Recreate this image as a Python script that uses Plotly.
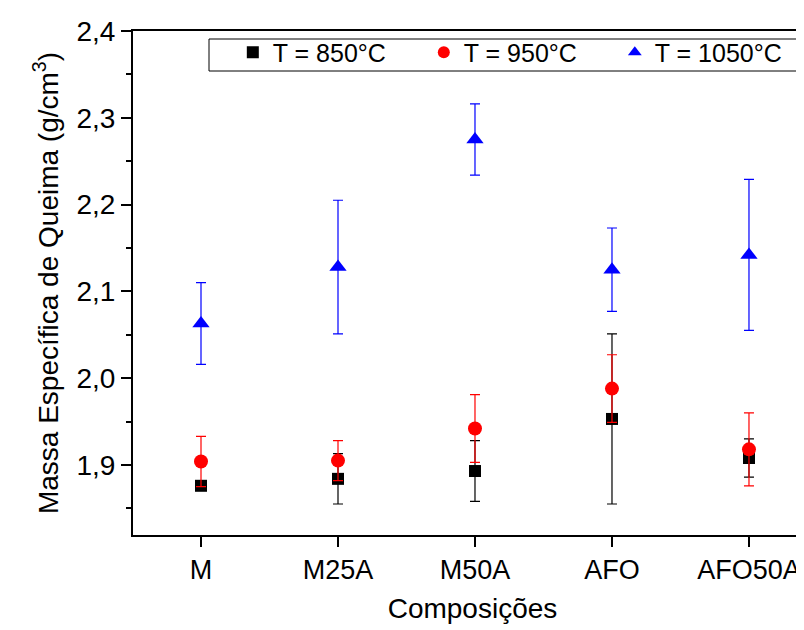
import plotly.graph_objects as go

categorias = ["M", "M25A", "M50A", "AFO", "AFO50A"]
massa_850 = [1.876, 1.884, 1.893, 1.953, 1.908]
erro_850 = [0.005, 0.029, 0.035, 0.098, 0.022]
massa_950 = [1.904, 1.905, 1.942, 1.988, 1.918]
erro_950 = [0.029, 0.023, 0.039, 0.039, 0.042]
massa_1050 = [2.063, 2.128, 2.275, 2.125, 2.142]
erro_1050 = [0.047, 0.077, 0.041, 0.048, 0.087]
y_ticks = [1.9, 2.0, 2.1, 2.2, 2.3, 2.4]
y_tick_labels = ["1,9", "2,0", "2,1", "2,2", "2,3", "2,4"]
y_minor = [1.85, 1.95, 2.05, 2.15, 2.25, 2.35]

FONT = "Liberation Sans, Arial, sans-serif"

fig = go.Figure()
series = [
    ("T = 850°C", massa_850, erro_850, "#000000", "square", 12),
    ("T = 950°C", massa_950, erro_950, "#FF0000", "circle", 14),
    ("T = 1050°C", massa_1050, erro_1050, "#0000FF", "triangle-up", 15),
]
for nome, vals, errs, cor, simb, tam in series:
    fig.add_trace(go.Scatter(
        x=categorias, y=vals, mode="markers", name=nome,
        marker=dict(symbol=simb, size=tam, color=cor),
        error_y=dict(type="data", array=errs, color=cor, thickness=1.2, width=5),
    ))

W, H = 804, 630
L, R, T, B = 125, 0, 23, 103

fig.update_layout(
    width=W, height=H,
    margin=dict(l=L, r=R, t=T, b=B),
    plot_bgcolor="white", paper_bgcolor="white",
    font=dict(family=FONT, size=27, color="black"),
    showlegend=True,
    legend=dict(
        orientation="h", x=0.147, y=1.003, xanchor="left", yanchor="top",
        bgcolor="rgba(0,0,0,0)", borderwidth=0,
        font=dict(size=25, family=FONT),
        entrywidth=146, entrywidthmode="pixels",
        itemsizing="constant", tracegroupgap=0,
    ),
    xaxis=dict(
        range=[-0.4964, 4.460], showline=True, linecolor="black", linewidth=2,
        mirror=True, ticks="outside", ticklen=10, tickwidth=2, tickcolor="black",
        showgrid=False, zeroline=False,
        tickfont=dict(size=27),
        title=dict(text="Composições", font=dict(size=28), standoff=14),
    ),
    yaxis=dict(
        range=[1.8193, 2.4], showline=True, linecolor="black", linewidth=2,
        mirror=False, ticks="outside", ticklen=10, tickwidth=2, tickcolor="black",
        tickvals=y_ticks, ticktext=y_tick_labels,
        minor=dict(tickvals=y_minor, ticks="outside", ticklen=5, tickwidth=2, tickcolor="black"),
        showgrid=False, zeroline=False,
        tickfont=dict(size=28),
        title=dict(text="Massa Específica de Queima (g/cm<sup>3</sup>)", font=dict(size=28), standoff=10),
    ),
)

# legend frame
fig.add_shape(type="rect", xref="paper", yref="paper",
              x0=(201 - L) / (W - L - R), x1=(797 - L) / (W - L - R),
              y0=(H - B - 63) / (H - T - B), y1=(H - B - 31) / (H - T - B),
              line=dict(color="black", width=1), fillcolor="rgba(0,0,0,0)", layer="above")

fig.write_html("out.html")
